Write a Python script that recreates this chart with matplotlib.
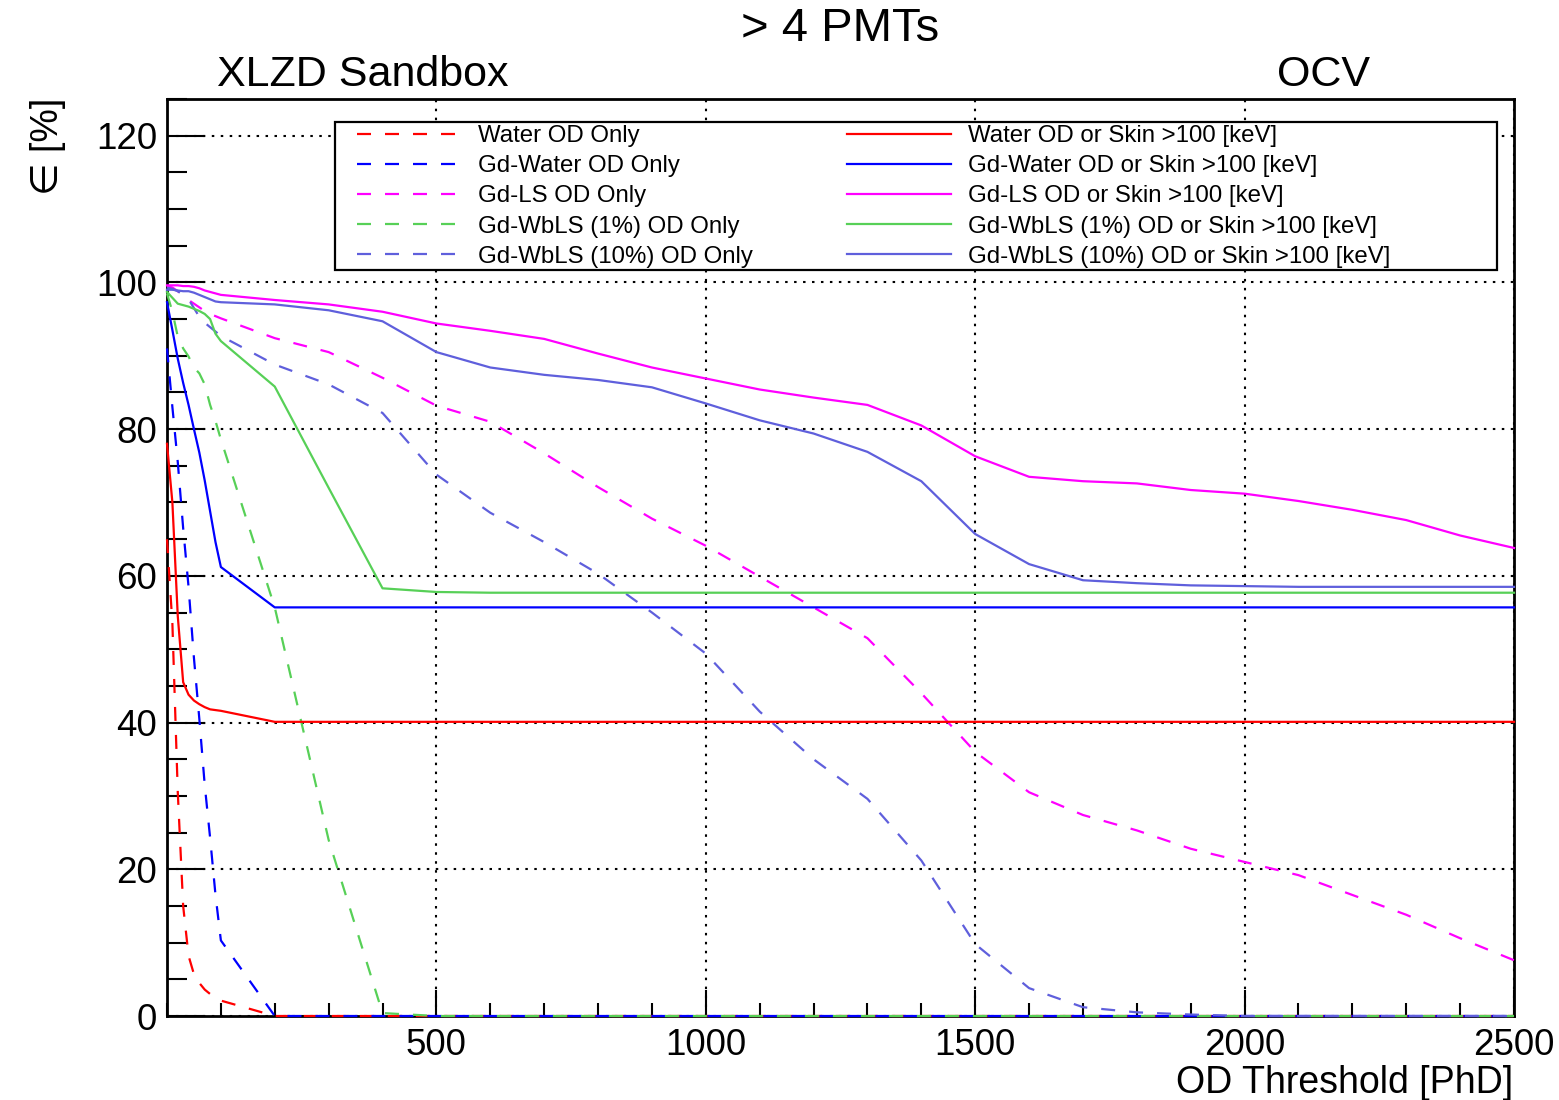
import matplotlib
matplotlib.use("Agg")
import matplotlib.pyplot as plt
from matplotlib.patches import Rectangle
from matplotlib.ticker import MultipleLocator, FixedLocator

plt.rcParams['font.family'] = ['Liberation Sans', 'DejaVu Sans']

# ---------------- data ----------------
threshold = [0, 10, 20, 30, 40, 50, 60, 70, 80, 90, 100,
             200, 300, 400, 500, 600, 700, 800, 900, 1000,
             1100, 1200, 1300, 1400, 1500, 1600, 1700, 1800, 1900, 2000,
             2100, 2200, 2300, 2400, 2500]

water_od = [65, 53.5, 30.5, 15, 8.2, 5.7, 4.5, 3.6, 3.0, 2.6, 2.1,
            0, 0, 0, 0, 0, 0, 0, 0, 0,
            0, 0, 0, 0, 0, 0, 0, 0, 0, 0,
            0, 0, 0, 0, 0]
gdwater_od = [91, 83, 75.5, 66.5, 58.5, 48.8, 40.5, 31.5, 24.3, 16.5, 10.3,
              0, 0, 0, 0, 0, 0, 0, 0, 0,
              0, 0, 0, 0, 0, 0, 0, 0, 0, 0,
              0, 0, 0, 0, 0]
gdls_od = [99.5, 99.3, 98.8, 98.2, 97.6, 97.1, 96.6, 96.1, 95.7, 95.4, 95.1,
           92.4, 90.5, 87.0, 83.2, 81.0, 76.7, 72.1, 67.8, 64.1,
           59.9, 55.7, 51.5, 44.0, 36.0, 30.5, 27.4, 25.3, 22.8, 21.0,
           19.2, 16.5, 13.8, 10.6, 7.6]
wbls1_od = [98.5, 96.0, 92.6, 91.0, 89.9, 88.4, 87.6, 86.1, 83.3, 81.1, 78.6,
            55.7, 24.0, 0.4, 0, 0, 0, 0, 0, 0,
            0, 0, 0, 0, 0, 0, 0, 0, 0, 0,
            0, 0, 0, 0, 0]
wbls10_od = [99.3, 99.1, 98.8, 98.3, 97.7, 96.5, 95.3, 94.5, 93.9, 93.3, 92.7,
             88.8, 86.1, 82.2, 73.8, 68.6, 64.6, 60.3, 55.0, 49.4,
             41.5, 35.0, 29.6, 21.2, 9.8, 3.8, 1.2, 0.5, 0.2, 0,
             0, 0, 0, 0, 0]

water_skin = [78, 70, 54.5, 45.5, 43.8, 43.0, 42.5, 42.1, 41.8, 41.7, 41.6,
              40.1, 40.1, 40.1, 40.1, 40.1, 40.1, 40.1, 40.1, 40.1,
              40.1, 40.1, 40.1, 40.1, 40.1, 40.1, 40.1, 40.1, 40.1, 40.1,
              40.1, 40.1, 40.1, 40.1, 40.1]
gdwater_skin = [97.3, 93.5, 89.6, 86.3, 83.3, 80.0, 76.8, 73.0, 68.8, 64.6, 61.2,
                55.7, 55.7, 55.7, 55.7, 55.7, 55.7, 55.7, 55.7, 55.7,
                55.7, 55.7, 55.7, 55.7, 55.7, 55.7, 55.7, 55.7, 55.7, 55.7,
                55.7, 55.7, 55.7, 55.7, 55.7]
gdls_skin = [99.6, 99.6, 99.6, 99.5, 99.5, 99.4, 99.2, 98.9, 98.7, 98.5, 98.3,
             97.6, 97.0, 96.0, 94.4, 93.4, 92.3, 90.3, 88.4, 86.9,
             85.4, 84.3, 83.3, 80.5, 76.3, 73.5, 72.9, 72.6, 71.7, 71.2,
             70.2, 69.0, 67.6, 65.5, 63.8]
wbls1_skin = [98.7, 97.9, 97.1, 96.9, 96.7, 96.4, 96.1, 95.7, 95.0, 93.0, 92.0,
              85.8, 72.0, 58.3, 57.8, 57.7, 57.7, 57.7, 57.7, 57.7,
              57.7, 57.7, 57.7, 57.7, 57.7, 57.7, 57.7, 57.7, 57.7, 57.7,
              57.7, 57.7, 57.7, 57.7, 57.7]
wbls10_skin = [99.0, 99.0, 98.9, 98.8, 98.8, 98.6, 98.3, 98.0, 97.7, 97.4, 97.3,
               97.0, 96.2, 94.7, 90.5, 88.4, 87.4, 86.7, 85.7, 83.5,
               81.2, 79.4, 76.9, 72.9, 65.7, 61.6, 59.4, 59.0, 58.7, 58.6,
               58.5, 58.5, 58.5, 58.5, 58.5]

dashed_series = [water_od, gdwater_od, gdls_od, wbls1_od, wbls10_od]
solid_series = [water_skin, gdwater_skin, gdls_skin, wbls1_skin, wbls10_skin]
dashed_labels = ["Water OD Only", "Gd-Water OD Only", "Gd-LS OD Only",
                 "Gd-WbLS (1%) OD Only", "Gd-WbLS (10%) OD Only"]
solid_labels = ["Water OD or Skin >100 [keV]", "Gd-Water OD or Skin >100 [keV]",
                "Gd-LS OD or Skin >100 [keV]", "Gd-WbLS (1%) OD or Skin >100 [keV]",
                "Gd-WbLS (10%) OD or Skin >100 [keV]"]
colors = ["#ff0000", "#0000ff", "#ff00ff", "#57d057", "#5f5fdc"]

xticks_major = [500, 1000, 1500, 2000, 2500]
yticks_major = [0, 20, 40, 60, 80, 100, 120]

# ---------------- figure ----------------
W, H = 1559, 1100
fig = plt.figure(figsize=(W / 100, H / 100), dpi=100)
L, R, T, B = 167, 1514, 99, 1016
ax = fig.add_axes([L / W, 1 - B / H, (R - L) / W, (B - T) / H])

handles = []
for ys, c, lab in zip(dashed_series, colors, dashed_labels):
    h, = ax.plot(threshold, ys, color=c, lw=1.6, dashes=(6.3, 6.3),
                 label=lab, zorder=3, clip_on=False)
    handles.append(h)
for ys, c, lab in zip(solid_series, colors, solid_labels):
    h, = ax.plot(threshold, ys, color=c, lw=1.6, label=lab, zorder=3,
                 clip_on=False)
    handles.append(h)

ax.set_xlim(0, 2500)
ax.set_ylim(0, 125)

ax.xaxis.set_major_locator(FixedLocator(xticks_major))
ax.xaxis.set_minor_locator(MultipleLocator(100))
ax.yaxis.set_major_locator(FixedLocator(yticks_major))
ax.yaxis.set_minor_locator(MultipleLocator(5))

ax.tick_params(axis='both', which='both', direction='in', top=False,
               right=False, width=1.5, labelsize=26.5)
ax.tick_params(axis='x', which='major', length=18.7, pad=8.6)
ax.tick_params(axis='x', which='minor', length=9.4)
ax.tick_params(axis='y', which='major', length=27.4, pad=7.2)
ax.tick_params(axis='y', which='minor', length=14.4)

for s in ax.spines.values():
    s.set_linewidth(2.0)

ax.grid(True, which='major', color='black', lw=1.5,
        linestyle=(0, (1.2, 3.1)), zorder=1)
ax.set_axisbelow(True)

# legend frame
def ax_x(px):
    return (px - L) / (R - L)

def ax_y(py):
    return (B - py) / (B - T)

frame = Rectangle((ax_x(335), ax_y(270)), ax_x(1497) - ax_x(335),
                  ax_y(122) - ax_y(270), transform=ax.transAxes,
                  facecolor='white', edgecolor='black', lw=1.6, zorder=4)
ax.add_patch(frame)

leg = ax.legend(handles=handles, ncol=2, loc='upper left',
                bbox_to_anchor=(ax_x(357), ax_y(125)), frameon=False,
                fontsize=17.3, handlelength=4.3, handletextpad=0.72,
                labelspacing=0.34, columnspacing=3.95, borderpad=0,
                borderaxespad=0)
leg.set_zorder(5)

# texts
fig.text(840 / W, 1 - 41 / H, "> 4 PMTs", ha='center', va='baseline',
         fontsize=34)
fig.text(217 / W, 1 - 86 / H, "XLZD Sandbox", ha='left', va='baseline',
         fontsize=31)
fig.text(1370 / W, 1 - 86 / H, "OCV", ha='right', va='baseline',
         fontsize=31)
fig.text(1513 / W, 1 - 1093 / H, "OD Threshold [PhD]", ha='right',
         va='baseline', fontsize=27)
fig.text(48 / W, 1 - 98 / H, "\u2208 [%]", ha='center', va='top',
         rotation=90, fontsize=27)

fig.savefig("out.png", dpi=100)
